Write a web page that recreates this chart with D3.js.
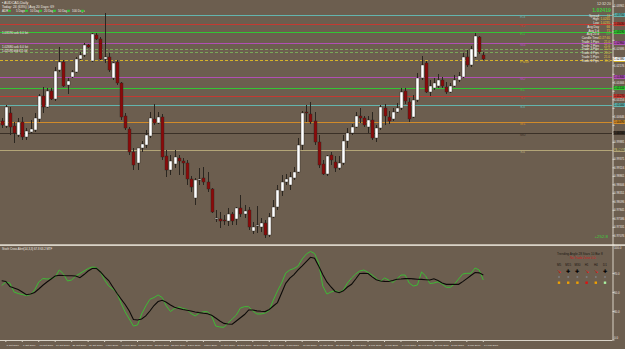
<!DOCTYPE html>
<html><head><meta charset="utf-8">
<script src="https://cdn.jsdelivr.net/npm/d3@7"></script>
<style>html,body{margin:0;padding:0;background:#6c5e4f;overflow:hidden}</style>
</head><body><svg id="c" width="625" height="349"></svg>
<script>
// ---------- DATA ----------
const openP =[1.0052,1.0037,1.0076,1.0037,1.0010,1.0049,1.0004,1.0019,1.0025,1.0058,1.0127,1.0094,1.0142,1.0118,1.0205,1.0229,1.0160,1.0184,1.0199,1.0238,1.0250,1.0280,1.0232,1.0310,1.0298,1.0238,1.0244,1.0181,1.0229,1.0166,1.0067,1.0028,0.9959,0.9926,0.9971,0.9980,1.0007,1.0058,1.0046,1.0064,0.9947,0.9905,0.9923,0.9941,0.9932,0.9926,0.9878,0.9821,0.9875,0.9881,0.9869,0.9848,0.9758,0.9758,0.9755,0.9752,0.9773,0.9758,0.9791,0.9773,0.9785,0.9722,0.9737,0.9734,0.9746,0.9710,0.9764,0.9794,0.9842,0.9869,0.9860,0.9881,0.9899,0.9980,1.0079,1.0073,1.0052,0.9989,0.9923,0.9893,0.9950,0.9929,0.9911,0.9926,0.9992,1.0016,1.0034,1.0067,1.0061,1.0034,1.0055,1.0001,1.0031,1.0091,1.0064,1.0058,1.0079,1.0091,1.0142,1.0109,1.0064,1.0115,1.0181,1.0226,1.0139,1.0151,1.0157,1.0175,1.0154,1.0139,1.0157,1.0175,1.0184,1.0244,1.0220,1.0244,1.0304,1.0250];
const highP =[1.0061,1.0100,1.0094,1.0049,1.0061,1.0064,1.0031,1.0055,1.0076,1.0133,1.0154,1.0151,1.0151,1.0214,1.0274,1.0235,1.0181,1.0205,1.0244,1.0259,1.0286,1.0283,1.0316,1.0316,1.0304,1.0376,1.0256,1.0229,1.0235,1.0169,1.0076,1.0034,0.9971,0.9965,0.9992,1.0025,1.0079,1.0103,1.0079,1.0073,0.9965,0.9950,0.9965,0.9950,0.9941,0.9935,0.9887,0.9881,0.9911,0.9914,0.9899,0.9851,0.9785,0.9779,0.9770,0.9791,0.9779,0.9794,0.9830,0.9800,0.9794,0.9749,0.9797,0.9761,0.9755,0.9776,0.9815,0.9860,0.9890,0.9893,0.9899,0.9914,1.0001,1.0082,1.0100,1.0109,1.0079,1.0010,0.9935,0.9950,0.9959,0.9947,0.9947,1.0010,1.0031,1.0043,1.0079,1.0091,1.0067,1.0067,1.0079,1.0040,1.0100,1.0103,1.0082,1.0091,1.0106,1.0151,1.0151,1.0121,1.0130,1.0196,1.0247,1.0232,1.0175,1.0181,1.0193,1.0184,1.0169,1.0166,1.0190,1.0199,1.0256,1.0265,1.0277,1.0316,1.0307,1.0259];
const lowP  =[1.0031,1.0031,1.0010,0.9986,1.0004,0.9995,0.9995,1.0016,1.0019,1.0049,1.0076,1.0091,1.0115,1.0112,1.0199,1.0154,1.0133,1.0181,1.0196,1.0235,1.0244,1.0271,1.0229,1.0295,1.0235,1.0226,1.0199,1.0175,1.0160,1.0055,1.0025,0.9950,0.9905,0.9905,0.9959,0.9971,1.0001,1.0040,1.0043,0.9935,0.9884,0.9890,0.9911,0.9890,0.9890,0.9860,0.9839,0.9800,0.9860,0.9860,0.9839,0.9776,0.9749,0.9731,0.9740,0.9737,0.9740,0.9740,0.9764,0.9761,0.9725,0.9713,0.9716,0.9719,0.9701,0.9704,0.9761,0.9785,0.9827,0.9860,0.9845,0.9875,0.9896,0.9965,1.0049,1.0043,0.9980,0.9911,0.9890,0.9887,0.9920,0.9899,0.9905,0.9920,0.9971,1.0010,1.0031,1.0046,1.0034,1.0016,0.9995,0.9989,1.0025,1.0040,1.0043,1.0052,1.0076,1.0085,1.0103,1.0049,1.0061,1.0109,1.0175,1.0136,1.0127,1.0145,1.0151,1.0151,1.0133,1.0136,1.0154,1.0169,1.0181,1.0214,1.0214,1.0241,1.0253,1.0235];
const closeP=[1.0040,1.0094,1.0034,1.0016,1.0049,1.0004,1.0022,1.0028,1.0061,1.0127,1.0094,1.0142,1.0118,1.0202,1.0229,1.0157,1.0172,1.0199,1.0238,1.0250,1.0280,1.0274,1.0313,1.0298,1.0238,1.0244,1.0205,1.0226,1.0166,1.0064,1.0031,0.9959,0.9920,0.9971,0.9983,1.0010,1.0061,1.0046,1.0064,0.9944,0.9905,0.9932,0.9944,0.9932,0.9926,0.9878,0.9854,0.9875,0.9878,0.9869,0.9848,0.9779,0.9761,0.9752,0.9752,0.9773,0.9752,0.9791,0.9773,0.9782,0.9734,0.9734,0.9740,0.9746,0.9710,0.9764,0.9794,0.9845,0.9869,0.9878,0.9884,0.9899,0.9980,1.0076,1.0076,1.0049,0.9989,0.9920,0.9893,0.9947,0.9935,0.9911,0.9926,0.9992,1.0016,1.0034,1.0067,1.0061,1.0040,1.0055,1.0001,1.0031,1.0094,1.0067,1.0052,1.0079,1.0091,1.0139,1.0112,1.0058,1.0115,1.0181,1.0220,1.0139,1.0157,1.0166,1.0175,1.0157,1.0139,1.0157,1.0175,1.0187,1.0244,1.0220,1.0268,1.0307,1.0259,1.0238];

// oscillator (lower pane)
const mainLine =[57.4,61.1,59.8,50.5,48.9,47.9,46.8,47.9,52.6,61.1,64.7,64.2,64.5,66.3,73.7,69.5,62.1,63.2,67.4,70.0,72.6,75.3,76.8,76.3,71.6,63.2,56.8,53.7,49.5,38.9,29.5,22.1,14.7,15.8,27.4,35.8,42.8,44.7,47.4,44.7,35.8,30.0,33.2,34.7,33.2,32.1,27.9,25.3,28.4,29.8,29.8,25.3,14.7,13.7,13.4,17.9,22.1,26.3,33.7,35.1,35.1,30.5,27.4,27.4,28.4,31.1,42.1,51.6,60.0,70.5,73.7,75.3,77.9,85.3,90.5,93.2,91.1,81.1,56.8,48.4,50.5,52.1,50.0,52.6,60.0,65.3,69.5,72.6,73.7,71.1,68.4,64.7,61.6,65.3,63.2,60.5,64.2,68.4,68.4,60.0,56.8,57.9,71.6,67.4,59.5,60.0,61.3,58.9,55.5,55.5,58.9,64.2,69.5,70.2,70.2,75.8,73.7,63.2];
const signalLine=[62.4,61.6,56.3,54.7,53.2,50.5,47.6,48.4,50.0,53.7,57.6,61.1,64.2,67.4,68.2,67.9,67.7,67.6,67.4,65.6,68.9,72.6,75.3,75.5,71.6,66.8,62.6,55.8,49.2,43.2,37.4,30.5,21.6,21.1,22.1,25.3,30.5,36.3,40.5,41.8,39.8,36.8,34.4,33.2,32.1,31.3,30.5,29.5,28.8,28.2,27.7,26.1,23.2,20.0,17.5,16.8,16.6,20.0,23.4,26.8,31.6,31.6,30.7,30.2,29.9,32.1,35.8,39.4,49.5,59.7,65.1,68.9,73.9,78.1,82.6,87.1,86.1,77.9,68.9,61.1,55.8,51.1,49.8,51.8,55.8,58.7,64.2,70.0,70.2,70.0,66.5,63.4,62.1,61.7,61.6,62.6,63.9,64.2,64.6,64.7,64.3,63.9,63.8,63.5,63.2,64.5,62.6,60.0,58.6,58.6,58.6,58.6,61.4,64.6,67.9,71.1,70.7,68.4];

const priceTicks=[1.03961,1.03706,1.03451,1.03196,1.02941,1.02686,1.02431,1.02176,1.01921,1.01666,1.01411,1.01156,1.00901,1.00646,1.00391,1.00136,0.99881,0.99626,0.99371,0.99116,0.98861,0.98606,0.98351,0.98096,0.97841,0.97586,0.97331,0.97076];
const oscTicks=[100,70,50,30,0];

const dateIdx   =[1,5,9,13,17,21,25,29,33,37,41,45,49,53,57,61,65,69,73,77,81,85,89,93,97,101,105,109,113,117];
const dateLabels=["3 Oct 2016","7 Oct 2016","13 Oct 2016","19 Oct 2016","25 Oct 2016","31 Oct 2016","4 Nov 2016","10 Nov 2016","16 Nov 2016","22 Nov 2016","28 Nov 2016","2 Dec 2016","8 Dec 2016","14 Dec 2016","20 Dec 2016","26 Dec 2016","30 Dec 2016","5 Jan 2017","11 Jan 2017","17 Jan 2017","23 Jan 2017","27 Jan 2017","2 Feb 2017","8 Feb 2017","14 Feb 2017","20 Feb 2017","24 Feb 2017","2 Mar 2017","8 Mar 2017","14 Mar 2017"];

const levelNames =["R3","R2","R1","M4","","","Pivot","M2","S1","S2","S3","M1","M0","S4"];
const levelPrices=[1.0370,1.0343,1.0319,1.0286,1.0268,1.0259,1.0235,1.0184,1.0151,1.0127,1.0100,1.0049,1.0016,0.9965];

const infoNames =["Spread","High","Low","Avg Day","Avg 5 d","Avg 20 d","Candle Time","Trade 1 Pips","Trade 2 Pips","Trade 3 Pips","Trade 4 Pips","Trade 5 Pips","Trade 6 Pips"];
const infoValues=["11","1.0265","1.0235","66","71","69","11:27:40","21.0","21.0","21.0","21.0","21.0","11.0"];

const tfNames=["M5","M15","M30","H1","H4","D1"];
const tfArrow=[-1,1,1,-1,-1,1];
const tfSquare=[0,0,0,-1,0,1];

// ---------- DRAW ----------
const W=625,H=349;
const BG="#6c5e4f", FONT="'Liberation Sans', Arial, sans-serif";
const svg=d3.select('#c');
svg.append('rect').attr('width',W).attr('height',H).attr('fill',BG);

const n=closeP.length;
const x=d3.scaleLinear().domain([0,n-1]).range([1.7,483.3]);
const y=d3.scaleLinear().domain([0.9686,1.0400]).range([243,5]);
const yo=d3.scaleLinear().domain([0,100]).range([340,245]);
const axisX=612.5;
const AF=2.9; // axis font size

const defs=svg.append('defs');
defs.append('clipPath').attr('id','mainclip').append('rect').attr('x',0).attr('y',0).attr('width',axisX).attr('height',244);
defs.append('clipPath').attr('id','oscclip').append('rect').attr('x',0).attr('y',247).attr('width',axisX).attr('height',93);

const main=svg.append('g').attr('clip-path','url(#mainclip)');

// level lines
const levelColors=["#63b5ae","#c43a32","#34c534","#b14fb4","#79a85a","#79a85a","#d7b42a","#b14fb4","#34c534","#c43a32","#63b5ae","#d18b2a","#3a3027","#b3a577"];
const levelDash  =[null,null,null,null,"3,2","3,2","3,2",null,null,null,null,null,null,null];
levelPrices.forEach((p,i)=>{
  main.append('line').attr('x1',0).attr('x2',axisX).attr('y1',Math.round(y(p))+0.5).attr('y2',Math.round(y(p))+0.5)
    .attr('stroke',levelColors[i]).attr('stroke-width',1).attr('stroke-dasharray',levelDash[i]);
  if(levelNames[i]) main.append('text').attr('x',520).attr('y',y(p)+3.2).attr('fill',levelColors[i])
    .attr('font-family',FONT).attr('font-size',4).text(levelNames[i]);
});

// candles
const cg=main.append('g');
for(let i=0;i<n;i++){
  const xc=Math.round(x(i))+0.5;
  const up=closeP[i]>=openP[i];
  cg.append('line').attr('x1',xc).attr('x2',xc).attr('y1',y(highP[i])).attr('y2',y(lowP[i]))
    .attr('stroke','#2b2620').attr('stroke-width',1);
  const top=y(Math.max(openP[i],closeP[i])), bot=y(Math.min(openP[i],closeP[i]));
  cg.append('rect').attr('x',xc-1.5).attr('y',top).attr('width',3).attr('height',Math.max(1,bot-top))
    .attr('fill',up?'#ffffff':'#8b0a0a').attr('stroke','#2b2620').attr('stroke-width',0.4);
}

// top-left info text
const tl=svg.append('g').attr('font-family',FONT).attr('fill','#f0ece4');
tl.append('text').attr('x',2).attr('y',4).attr('font-size',3.6).text('▪ AUDCAD,Daily');
tl.append('text').attr('x',2).attr('y',8).attr('font-size',3.4).text('Today: 24 (63%)  |  Avg 20 Days: 69');
const adr=["ADR","5 Days","10 Days","20 Days","50 Days","100 Days"];
adr.forEach((t,i)=>{
  tl.append('text').attr('x',2+i*14).attr('y',12).attr('font-size',3).text(t);
  tl.append('rect').attr('x',2+i*14+(i==0?6:9)).attr('y',9.8).attr('width',3).attr('height',2).attr('fill','#33c233');
});
// left labels
tl.append('text').attr('x',2).attr('y',34).attr('font-size',3.1).text('1.03190 ask 6.0 lot');
tl.append('text').attr('x',2).attr('y',48.3).attr('font-size',3.1).text('1.02680 ask 6.0 lot');
tl.append('text').attr('x',2).attr('y',51.8).attr('font-size',3.1).text('1.02590 bid 6.0 lot');

// right info panel
const ip=svg.append('g').attr('font-family',FONT);
ip.append('text').attr('x',611).attr('y',5).attr('text-anchor','end').attr('font-size',3.6).attr('fill','#e8e4dc').text('12:32:20');
ip.append('text').attr('x',611).attr('y',11.5).attr('text-anchor','end').attr('font-size',5.2).attr('font-weight','bold').attr('fill','#3ccf3c').text('1.02419');
infoNames.forEach((t,i)=>{
  const yy=16.5+i*3.75;
  ip.append('text').attr('x',599).attr('y',yy).attr('text-anchor','end').attr('font-size',3.1).attr('fill','#f0ece4').text(t);
  ip.append('text').attr('x',610).attr('y',yy).attr('text-anchor','end').attr('font-size',3.1).attr('fill',i==5?'#3ccf3c':'#e8c840').text(infoValues[i]);
});
ip.append('text').attr('x',608).attr('y',237.5).attr('text-anchor','end').attr('font-size',4.4).attr('fill','#3ccf3c').text('+252.8');

// right price axis
const ax=svg.append('g');
ax.append('line').attr('x1',axisX+0.5).attr('x2',axisX+0.5).attr('y1',0).attr('y2',340).attr('stroke','#d8d2c6').attr('stroke-width',1);
const boxLevels=[0,1,2,3,6,7,8,9,10,11,12,13];
const boxYs=boxLevels.map(i=>y(levelPrices[i])).concat([y(closeP[n-1])]);
priceTicks.forEach(p=>{
  const yy=y(p);
  ax.append('line').attr('x1',axisX).attr('x2',axisX+2).attr('y1',yy).attr('y2',yy).attr('stroke','#d8d2c6');
  if(boxYs.some(b=>Math.abs(b-yy)<3.5)) return;
  ax.append('text').attr('x',614).attr('y',yy+1.1).attr('font-family',FONT).attr('font-size',AF).attr('fill','#ece8e0').text(p.toFixed(5));
});
boxLevels.forEach(i=>{
  const yy=y(levelPrices[i]);
  ax.append('rect').attr('x',axisX+1).attr('y',yy-2).attr('width',11.5).attr('height',4).attr('fill',levelColors[i]);
  if(i===6) return; // pivot label hidden under current-price box
  ax.append('text').attr('x',614).attr('y',yy+1.1).attr('font-family',FONT).attr('font-size',AF).attr('fill','#000').text(levelPrices[i].toFixed(5));
});
// current price box
{
  const yy=y(closeP[n-1]);
  ax.append('rect').attr('x',axisX+1).attr('y',yy-2).attr('width',11.5).attr('height',4).attr('fill','#ffffff');
  ax.append('text').attr('x',614).attr('y',yy+1.1).attr('font-family',FONT).attr('font-size',AF).attr('fill','#000').text(closeP[n-1].toFixed(5));
}

// separator between panes
svg.append('rect').attr('x',0).attr('y',244.3).attr('width',W).attr('height',1.6).attr('fill','#e6e0d4');

// oscillator pane
const og=svg.append('g').attr('clip-path','url(#oscclip)');
const line=d3.line().x((d,i)=>x(i)).y(d=>yo(d));
og.append('path').datum(mainLine).attr('d',line).attr('fill','none').attr('stroke','#3dbb35').attr('stroke-width',1);
og.append('path').datum(signalLine).attr('d',line).attr('fill','none').attr('stroke','#0c0a08').attr('stroke-width',1.1);
svg.append('text').attr('x',2).attr('y',249.5).attr('font-family',FONT).attr('font-size',2.8).attr('fill','#f0ece4').text('Stoch Cross Alert(14,3,3) 67.8 63.2 MTF');

oscTicks.forEach(v=>{
  const yy=yo(v);
  ax.append('line').attr('x1',axisX).attr('x2',axisX+2).attr('y1',yy).attr('y2',yy).attr('stroke','#d8d2c6');
  ax.append('text').attr('x',614).attr('y',Math.min(339,Math.max(248.5,yy+1.1))).attr('font-family',FONT).attr('font-size',AF).attr('fill','#ece8e0').text(v.toFixed(1));
});

// signal table
const st=svg.append('g').attr('font-family',FONT);
st.append('text').attr('x',557).attr('y',254.5).attr('font-size',3.1).attr('fill','#201a14').text('Trending Angle 28 Stars 10 Bar 8');
st.append('text').attr('x',570).attr('y',258.5).attr('font-size',3.1).attr('fill','#d02020').text('No Trade Zone 0.0');
tfNames.forEach((t,i)=>{
  const xx=559+i*9.2;
  st.append('text').attr('x',xx).attr('y',266).attr('text-anchor','middle').attr('font-size',3).attr('fill','#1c1610').text(t);
  st.append('text').attr('x',xx).attr('y',272.5).attr('text-anchor','middle').attr('font-size',4.6).attr('fill',tfArrow[i]<0?'#e01010':'#000').text(tfArrow[i]<0?'↘':'✚');
  st.append('circle').attr('cx',xx).attr('cy',277).attr('r',1).attr('fill','#7d7d7d');
  st.append('rect').attr('x',xx-1.2).attr('y',281.5).attr('width',2.4).attr('height',2.4).attr('fill',tfSquare[i]<0?'#e01010':(tfSquare[i]>0?'#a8f0a0':'#f0a000'));
});

// bottom axis
const bx=svg.append('g');
bx.append('line').attr('x1',0).attr('x2',axisX).attr('y1',340.5).attr('y2',340.5).attr('stroke','#d8d2c6');
dateIdx.forEach((d,i)=>{
  const xx=x(d);
  bx.append('line').attr('x1',xx).attr('x2',xx).attr('y1',340).attr('y2',342).attr('stroke','#d8d2c6');
  bx.append('text').attr('x',xx+0.8).attr('y',345.5).attr('font-family',FONT).attr('font-size',2.5).attr('fill','#ece8e0').text(dateLabels[i]);
});
</script></body></html>
